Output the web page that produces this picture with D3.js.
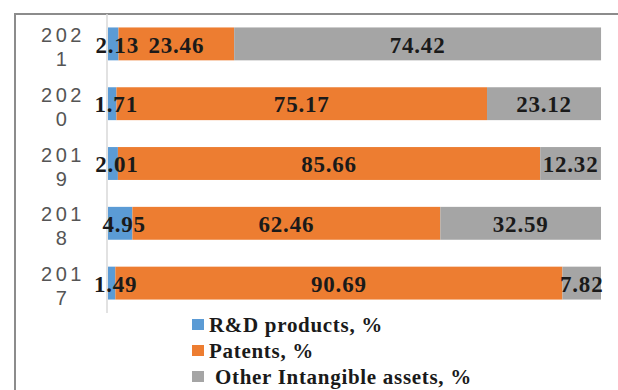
<!DOCTYPE html>
<html>
<head>
<meta charset="utf-8">
<script src="https://cdn.jsdelivr.net/npm/d3@7/dist/d3.min.js"></script>
<style>
  html, body { margin: 0; padding: 0; background: #fff; }
  svg { display: block; }
</style>
</head>
<body>
<svg id="chart" width="618" height="390"></svg>
<script>
// Structure of intangible assets by year, %
const years = ["2021", "2020", "2019", "2018", "2017"];
const rdProducts = [2.13, 1.71, 2.01, 4.95, 1.49];
const patents = [23.46, 75.17, 85.66, 62.46, 90.69];
const otherAssets = [74.42, 23.12, 12.32, 32.59, 7.82];
const seriesNames = ["R&D products, %", "Patents, %", " Other Intangible assets, %"];
const seriesColors = ["#5B9BD5", "#ED7D31", "#A5A5A5"];

const serif = "Liberation Serif";
const sans = "Liberation Sans";

const svg = d3.select("#chart");

// outer frame
svg.append("rect")
  .attr("x", 15).attr("y", 14)
  .attr("width", 700).attr("height", 500)
  .attr("fill", "none").attr("stroke", "#8c8c8c").attr("stroke-width", 2);

const rows = years.map((y, i) => ({
  year: y,
  values: [rdProducts[i], patents[i], otherAssets[i]]
}));

const x = d3.scaleLinear().domain([0, 100]).range([108, 601]);
const y = d3.scaleBand().domain(years).range([14, 313])
  .paddingInner(0.45).paddingOuter(0.225);

// category axis line
svg.append("line")
  .attr("x1", 107).attr("x2", 107)
  .attr("y1", 14).attr("y2", 313)
  .attr("stroke", "#d9d9d9").attr("stroke-width", 1.5);

// stacked segments
const segs = [];
rows.forEach(r => {
  let acc = 0;
  r.values.forEach((v, k) => {
    segs.push({ year: r.year, k, v, x0: acc, x1: acc + v });
    acc += v;
  });
});

svg.append("g").selectAll("rect")
  .data(segs).join("rect")
  .attr("x", d => x(d.x0))
  .attr("width", d => x(d.x1) - x(d.x0))
  .attr("y", d => y(d.year))
  .attr("height", y.bandwidth())
  .attr("fill", d => seriesColors[d.k]);

// value labels
svg.append("g").selectAll("text")
  .data(segs).join("text")
  .attr("x", d => (x(d.x0) + x(d.x1)) / 2 + (d.k === 0 ? 4 : 0))
  .attr("y", d => y(d.year) + y.bandwidth() / 2)
  .attr("dy", "0.38em")
  .attr("text-anchor", "middle")
  .style("font-family", serif)
  .style("font-weight", "bold")
  .style("font-size", "23px")
  .style("letter-spacing", "0.8px")
  .attr("fill", "#1a1a1a")
  .text(d => d.v.toFixed(2));

// year labels, split over two lines
const yl = svg.append("g").selectAll("text")
  .data(years).join("text")
  .attr("text-anchor", "middle")
  .style("font-family", sans)
  .style("font-size", "20px")
  .style("letter-spacing", "3.5px")
  .attr("fill", "#555");
yl.append("tspan")
  .attr("x", 63)
  .attr("y", d => y(d) + y.bandwidth() / 2 - 2)
  .text(d => d.slice(0, 3));
yl.append("tspan")
  .attr("x", 63)
  .attr("y", d => y(d) + y.bandwidth() / 2 + 22)
  .text(d => d.slice(3));

// legend
const lg = svg.append("g").selectAll("g")
  .data(seriesNames).join("g")
  .attr("transform", (d, i) => `translate(192, ${319 + i * 26})`);
lg.append("rect")
  .attr("width", 12).attr("height", 11)
  .attr("fill", (d, i) => seriesColors[i]);
lg.append("text")
  .attr("x", 17).attr("y", 13)
  .style("white-space", "pre")
  .style("font-family", serif)
  .style("font-weight", "bold")
  .style("font-size", "21px")
  .style("letter-spacing", "0.7px")
  .attr("fill", "#1a1a1a")
  .text(d => d);
</script>
</body>
</html>
